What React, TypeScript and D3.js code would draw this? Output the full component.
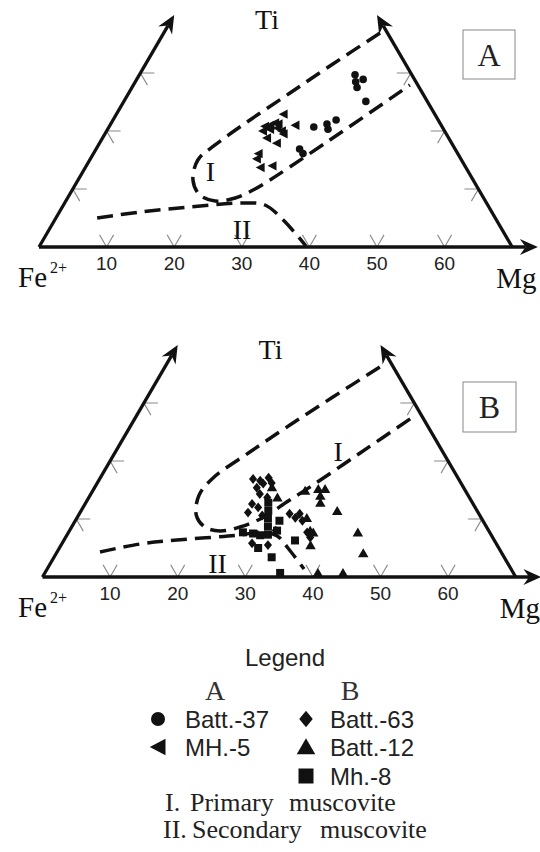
import React from "react";
import * as d3 from "d3";

type P = [number, number]; // [Mg, Ti] in ternary units (Fe = 100 - Mg - Ti)

// ---- axis ticks ----
const bottomTicks = [10, 20, 30, 40, 50, 60];
const sideTicks = [10, 20, 30];

// ---- Panel A data ----
const batt37: P[] = [
  [31.9, 29.7], [33.5, 28.9], [32.6, 28.5], [33.3, 27.5], [35.8, 25.1],
  [30.3, 20.7], [32.0, 21.2], [33.0, 21.9], [32.6, 20.3], [30.1, 16.9], [31.0, 16.1],
];
const mh5: P[] = [
  [24.7, 22.9], [27.4, 21.0], [23.0, 20.8], [23.7, 21.0], [24.2, 21.4], [24.8, 21.2],
  [23.1, 20.0], [24.0, 20.3], [25.0, 20.5], [25.9, 20.0], [24.3, 18.8], [26.4, 19.5],
  [26.2, 17.9], [24.4, 16.1], [24.6, 15.2], [27.5, 14.0], [25.9, 13.7],
];

// ---- Panel B data ----
const batt63: P[] = [
  [22.7, 16.9], [23.9, 16.6], [24.9, 17.1], [24.0, 15.4], [24.6, 16.1], [25.8, 16.2],
  [25.0, 14.3], [26.4, 13.7], [24.7, 12.6], [24.85, 11.1], [25.9, 12.0], [31.1, 10.9],
  [32.3, 10.2], [32.6, 10.9], [33.6, 9.7], [30.6, 5.5], [28.1, 5.8], [35.3, 7.7],
  [36.2, 6.8], [27.2, 10.6], [30.5, 8.0],
];
const batt12: P[] = [
  [33.2, 15.2], [34.2, 15.2], [34.1, 14.0], [34.7, 12.8], [37.9, 11.4], [27.9, 13.7],
  [34.0, 10.2], [36.2, 7.7], [42.8, 7.7], [36.9, 5.5], [45.4, 4.1], [40.4, 0.7],
  [44.1, 0.7], [35.6, 8.0], [31.4, 14.9], [26.2, 15.5],
];
const mh8: P[] = [
  [34.8, 0.7], [32.2, 3.4], [34.2, 6.3], [25.8, 7.7], [27.4, 7.5], [28.6, 7.2],
  [27.0, 12.8], [27.7, 11.4], [28.3, 10.1], [29.0, 8.7], [29.7, 7.3], [30.2, 9.7],
  [30.7, 8.0], [29.4, 5.0],
];

// ---- field boundaries ----
const regionIA: P[] = [
  [32.0, 36.9], [27.7, 31.55], [23.85, 26.55], [20.26, 21.9], [17.25, 17.59], [16.0, 15.0],
  [17.0, 11.55], [19.3, 8.97], [22.1, 7.93], [24.8, 8.45], [26.95, 10.0], [33.8, 18.45], [40.9, 27.93],
];
const regionIIA: P[] = [
  [6.1, 5.0], [11.9, 6.03], [18.9, 6.9], [26.7, 7.59], [29.8, 7.24], [33.8, 4.66], [39.4, 0.17],
];
const regionIB: P[] = [
  [31.8, 36.2], [27.45, 31.03], [23.5, 26.2], [19.9, 21.55], [16.7, 17.07], [16.1, 14.14],
  [17.4, 10.69], [19.7, 8.62], [22.3, 7.93], [24.9, 8.62], [27.4, 10.17], [29.8, 13.1],
  [31.8, 15.5], [36.3, 21.38], [41.0, 27.59],
];
const regionIIB: P[] = [
  [6.35, 4.31], [11.6, 5.69], [16.7, 6.38], [25.6, 7.24], [28.6, 7.76], [31.2, 7.07], [33.8, 5.0], [38.0, 1.38],
];

const HX = 6.76; // px per unit along base
const HY = 5.8; // px per Ti unit vertically
const SERIF = "'Liberation Serif', 'Times New Roman', serif";
const SANS = "'Liberation Sans', Arial, sans-serif";
const INK = "#111";

type Mk = "circle" | "left" | "up" | "diamond" | "square";

function markerPath(kind: Mk, s: number): string {
  switch (kind) {
    case "left":
      return `M${-s * 0.55},0L${s * 0.5},${-s * 0.55}L${s * 0.5},${s * 0.55}Z`;
    case "up":
      return `M0,${-s * 0.55}L${s * 0.58},${s * 0.45}L${-s * 0.58},${s * 0.45}Z`;
    case "diamond":
      return `M0,${-s * 0.55}L${s * 0.45},0L0,${s * 0.55}L${-s * 0.45},0Z`;
    case "square":
      return `M${-s / 2},${-s / 2}h${s}v${s}h${-s}Z`;
    default: {
      const r = s / 2;
      return `M${r},0A${r},${r} 0 1,1 ${-r},0A${r},${r} 0 1,1 ${r},0Z`;
    }
  }
}

function arrowHead(tip: [number, number], from: [number, number], L = 18, W = 8) {
  const dx = tip[0] - from[0];
  const dy = tip[1] - from[1];
  const len = Math.hypot(dx, dy);
  const ux = dx / len, uy = dy / len;
  const nx = -uy, ny = ux;
  const bx = tip[0] - L * ux, by = tip[1] - L * uy;
  const kx = tip[0] - L * 0.68 * ux, ky = tip[1] - L * 0.68 * uy;
  return {
    d: `M${tip[0]},${tip[1]}L${bx + W * nx},${by + W * ny}L${kx},${ky}L${bx - W * nx},${by - W * ny}Z`,
    notch: [kx, ky] as [number, number],
  };
}

type PanelCfg = {
  x0: number;
  y0: number;
  label: string;
  box: [number, number, number, number];
  series: { data: P[]; kind: Mk; size: number }[];
  regionI: P[];
  regionII: P[];
  labI: P;
  labII: P;
};

const panels: PanelCfg[] = [
  {
    x0: 39, y0: 247, label: "A", box: [463, 30, 52, 49],
    series: [
      { data: mh5, kind: "left", size: 8.5 },
      { data: batt37, kind: "circle", size: 7.6 },
    ],
    regionI: regionIA, regionII: regionIIA,
    labI: [18.9, 12.9], labII: [28.6, 2.9],
  },
  {
    x0: 42.5, y0: 577, label: "B", box: [463, 382, 53, 50],
    series: [
      { data: batt63, kind: "diamond", size: 9 },
      { data: mh8, kind: "square", size: 8 },
      { data: batt12, kind: "up", size: 9 },
    ],
    regionI: regionIB, regionII: regionIIB,
    labI: [33.0, 21.5], labII: [24.8, 2.2],
  },
];

function Panel({ cfg }: { cfg: PanelCfg }) {
  const xs = d3.scaleLinear().domain([0, 70]).range([cfg.x0, cfg.x0 + 70 * HX]);
  const ys = d3.scaleLinear().domain([0, 40]).range([cfg.y0, cfg.y0 - 40 * HY]);
  const proj = (p: P): [number, number] => [xs(p[0] + p[1] / 2), ys(p[1])];
  const line = d3
    .line<P>()
    .x((d) => proj(d)[0])
    .y((d) => proj(d)[1])
    .curve(d3.curveCatmullRom.alpha(0.5));

  const origin = proj([0, 0]);
  const baseTip = proj([73.8, 0]);
  const leftTip = proj([0, 40]);
  const rightStart = proj([70, 0]);
  const rightTip = proj([30, 40]);
  const axes = [
    { from: origin, tip: baseTip },
    { from: origin, tip: leftTip },
    { from: rightStart, tip: rightTip },
  ];

  const tickColor = "#8a8a8a";
  const tl = 14;
  const c60 = 0.5, s60 = Math.sqrt(3) / 2;

  return (
    <g>
      {/* ticks */}
      {bottomTicks.map((t) => {
        const [x, y] = proj([t, 0]);
        return (
          <g key={"b" + t}>
            <path
              d={`M${x - tl * c60},${y - tl * s60}L${x},${y}L${x + tl * c60},${y - tl * s60}`}
              fill="none" stroke={tickColor} strokeWidth={1.1}
            />
            <text x={x} y={y + 23} textAnchor="middle" fontFamily={SANS} fontSize={19} fill="#222">
              {t}
            </text>
          </g>
        );
      })}
      {sideTicks.map((t) => {
        const [x, y] = proj([0, t]);
        return (
          <path key={"l" + t}
            d={`M${x + tl},${y}L${x},${y}L${x + tl * c60},${y + tl * s60}`}
            fill="none" stroke={tickColor} strokeWidth={1.1}
          />
        );
      })}
      {sideTicks.map((t) => {
        const [x, y] = proj([70 - t, t]);
        return (
          <path key={"r" + t}
            d={`M${x - tl},${y}L${x},${y}L${x - tl * c60},${y + tl * s60}`}
            fill="none" stroke={tickColor} strokeWidth={1.1}
          />
        );
      })}

      {/* axes */}
      {axes.map((a, i) => {
        const h = arrowHead(a.tip, a.from);
        return (
          <g key={"ax" + i}>
            <line x1={a.from[0]} y1={a.from[1]} x2={h.notch[0]} y2={h.notch[1]} stroke={INK} strokeWidth={3.3} />
            <path d={h.d} fill={INK} />
          </g>
        );
      })}

      {/* field boundaries */}
      <path d={line(cfg.regionI) || ""} fill="none" stroke={INK} strokeWidth={3.5} strokeDasharray="16 8" />
      <path d={line(cfg.regionII) || ""} fill="none" stroke={INK} strokeWidth={3.5} strokeDasharray="16 8" />
      <text x={proj(cfg.labI)[0]} y={proj(cfg.labI)[1] + 9} textAnchor="middle" fontFamily={SERIF} fontSize={28} fill={INK}>I</text>
      <text x={proj(cfg.labII)[0]} y={proj(cfg.labII)[1] + 9} textAnchor="middle" fontFamily={SERIF} fontSize={28} fill={INK}>II</text>

      {/* data */}
      {cfg.series.map((s, si) =>
        s.data.map((p, i) => {
          const [x, y] = proj(p);
          return <path key={si + "-" + i} d={markerPath(s.kind, s.size)} transform={`translate(${x},${y})`} fill={INK} />;
        })
      )}

      {/* labels */}
      <text x={cfg.x0 + 228} y={cfg.y0 - 218} textAnchor="middle" fontFamily={SERIF} fontSize={28} fill={INK}>Ti</text>
      <text x={18} y={cfg.y0 + 40} fontFamily={SERIF} fontSize={29} fill={INK}>Fe</text>
      <text x={50} y={cfg.y0 + 26} fontFamily={SERIF} fontSize={16} fill={INK}>2+</text>
      <text x={xs(70) - 16} y={cfg.y0 + 41} fontFamily={SERIF} fontSize={29} fill={INK}>Mg</text>

      <rect x={cfg.box[0]} y={cfg.box[1]} width={cfg.box[2]} height={cfg.box[3]} fill="none" stroke="#888" strokeWidth={1} />
      <text x={cfg.box[0] + cfg.box[2] / 2} y={cfg.box[1] + cfg.box[3] / 2 + 11} textAnchor="middle" fontFamily={SERIF} fontSize={32} fill="#222">
        {cfg.label}
      </text>
    </g>
  );
}

const legendA = [
  { kind: "circle" as Mk, name: "Batt.-37" },
  { kind: "left" as Mk, name: "MH.-5" },
];
const legendB = [
  { kind: "diamond" as Mk, name: "Batt.-63" },
  { kind: "up" as Mk, name: "Batt.-12" },
  { kind: "square" as Mk, name: "Mh.-8" },
];
const fieldNames = [
  ["I.", "Primary", "muscovite"],
  ["II.", "Secondary", "muscovite"],
];

function Legend() {
  const rowY = [719, 747, 776];
  const legSize: Record<Mk, number> = { circle: 14, left: 15, up: 16, diamond: 15, square: 15 };
  const wordX = [
    [165, 190, 289],
    [163, 192, 320],
  ];
  return (
    <g>
      <text x={285} y={666} textAnchor="middle" fontFamily={SANS} fontSize={24} fill="#222">Legend</text>
      <text x={215} y={700} textAnchor="middle" fontFamily={SERIF} fontSize={28} fill="#333">A</text>
      <text x={350} y={700} textAnchor="middle" fontFamily={SERIF} fontSize={28} fill="#333">B</text>
      {legendA.map((e, i) => (
        <g key={"la" + i}>
          <path d={markerPath(e.kind, legSize[e.kind])} transform={`translate(158,${rowY[i]})`} fill={INK} />
          <text x={185} y={rowY[i] + 8.5} fontFamily={SANS} fontSize={24} fill="#222">{e.name}</text>
        </g>
      ))}
      {legendB.map((e, i) => (
        <g key={"lb" + i}>
          <path d={markerPath(e.kind, legSize[e.kind])} transform={`translate(306,${rowY[i]})`} fill={INK} />
          <text x={330} y={rowY[i] + 8.5} fontFamily={SANS} fontSize={24} fill="#222">{e.name}</text>
        </g>
      ))}
      {fieldNames.map((words, li) => (
        <g key={"fn" + li}>
          {words.map((w, wi) => (
            <text key={wi} x={wordX[li][wi]} y={811 + li * 27} fontFamily={SERIF} fontSize={26} fill="#222">{w}</text>
          ))}
        </g>
      ))}
    </g>
  );
}

export default function App() {
  return (
    <svg width={540} height={852} style={{ position: "absolute", left: 0, top: 0, background: "#fff" }}>
      {panels.map((p) => (
        <Panel key={p.label} cfg={p} />
      ))}
      <Legend />
    </svg>
  );
}
